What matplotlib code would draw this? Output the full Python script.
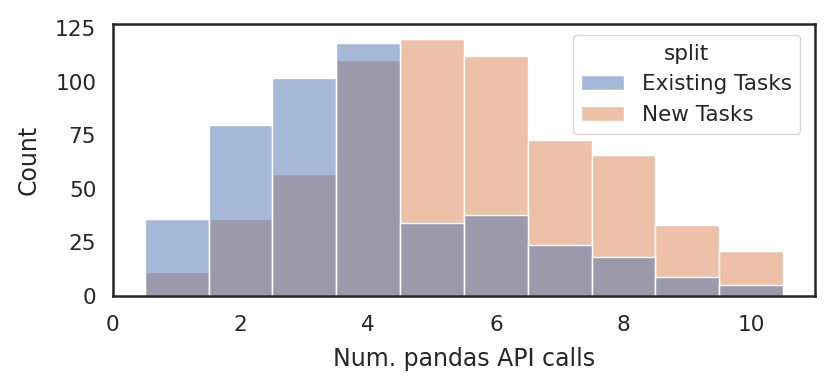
import matplotlib
matplotlib.use("Agg")
import matplotlib.pyplot as plt
import seaborn as sns
import pandas as pd

calls = [1, 2, 3, 4, 5, 6, 7, 8, 9, 10]
existing_counts = [36, 80, 102, 118, 34, 38, 24, 18, 9, 5]
new_counts = [11, 36, 57, 110, 120, 112, 73, 66, 33, 21]
splits = ["Existing Tasks", "New Tasks"]

df = pd.DataFrame({
    "calls": calls * 2,
    "count": existing_counts + new_counts,
    "split": [splits[0]] * len(calls) + [splits[1]] * len(calls),
})

sns.set_theme(style="white", font_scale=1.42)
plt.rcParams['font.family'] = ['DejaVu Sans']

fig = plt.figure(figsize=(8.3, 3.9), dpi=100)
ax = fig.add_axes([0.136, 0.241, 0.846, 0.697])
sns.histplot(data=df, x="calls", weights="count", hue="split", discrete=True,
             ax=ax, hue_order=splits, edgecolor="white")
ax.set_xlim(0, 11)
ax.set_ylim(0, 126.9)
ax.set_xticks([0, 2, 4, 6, 8, 10])
ax.set_yticks([0, 25, 50, 75, 100, 125])
ax.tick_params(axis="x", pad=8)
ax.tick_params(axis="y", pad=6)
ax.set_xlabel("Num. pandas API calls", labelpad=8)
ax.set_ylabel("Count", labelpad=10)
for s in ax.spines.values():
    s.set_color("#262626")
    s.set_linewidth(1.8)
sns.move_legend(ax, "upper right", bbox_to_anchor=(0.979, 0.96),
                borderaxespad=0, fontsize=15.5, title_fontsize=15.5)

fig.savefig("out.png", dpi=100)
